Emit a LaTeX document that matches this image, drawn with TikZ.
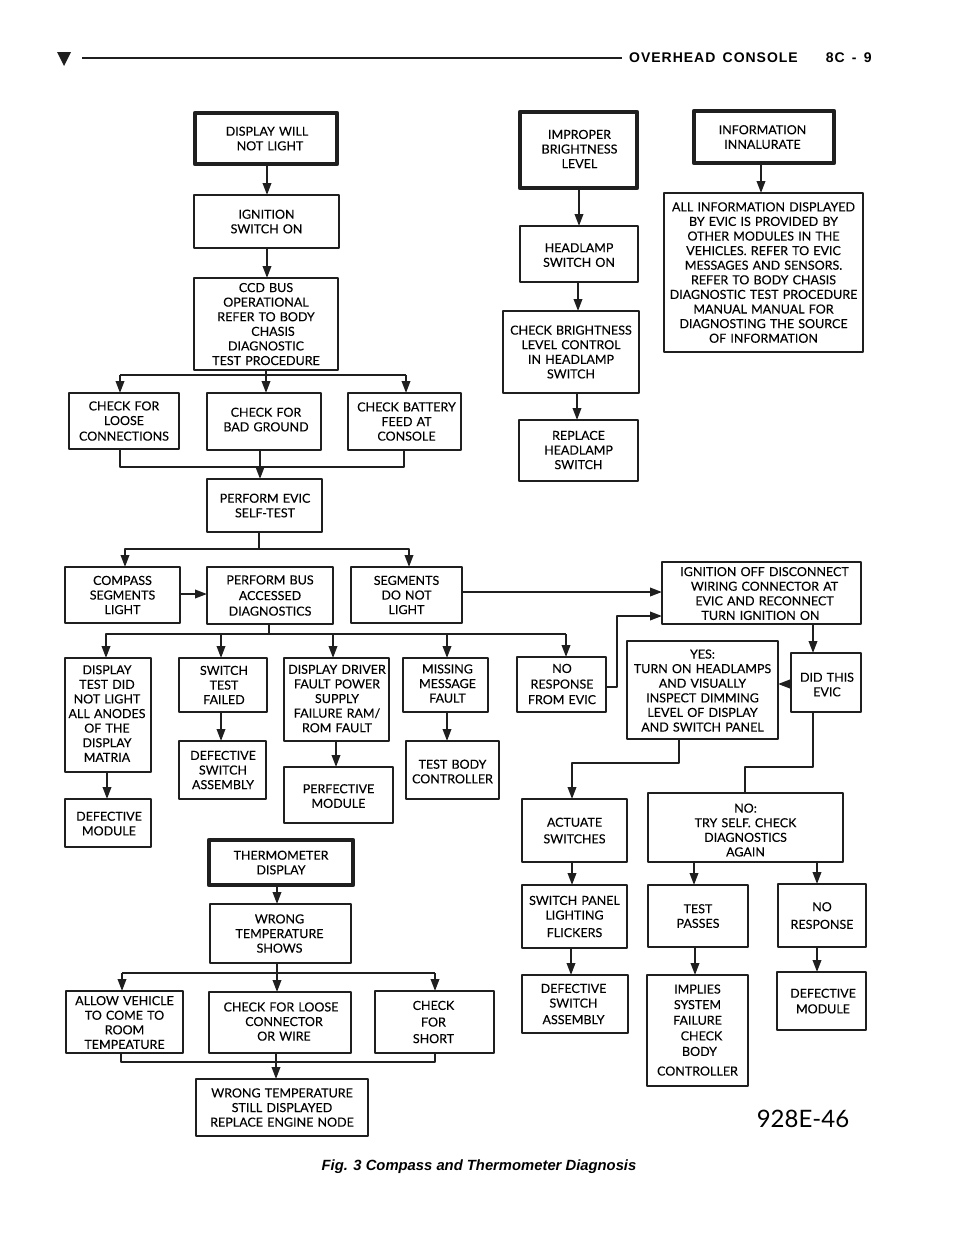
\documentclass[tikz,border=0pt]{standalone}
\usepackage{fontspec}
\usetikzlibrary{arrows.meta,calc}
\setmainfont{Lato}
\newfontfamily\headfont{Liberation Sans}[WordSpace=1.5]
\newfontfamily\capfont{Liberation Sans}
\newfontfamily\flowfam{Lato}[FakeBold=0.15,WordSpace=1.3]
\tikzset{
  box/.style={draw=black!88,line width=1.9pt,outer sep=0pt,inner sep=0pt,line join=round},
  thickbox/.style={box,line width=4.5pt},
  conn/.style={draw=black!88,line width=2pt,line join=round},
  arr/.style={conn,-{Triangle[length=12pt,width=8.5pt]}}
}
\newcommand\flowfont{\flowfam\fontsize{12.5}{14.6}\selectfont}
% \bx[opts]{name}{x1}{y1}{x2}{y2}{dx}{dy}{text}
\newcommand\bx[9][]{%
  \pgfmathsetmacro\cx{(#3+#5)/2}\pgfmathsetmacro\cy{(#4+#6)/2}%
  \pgfmathsetmacro\ww{#5-#3}\pgfmathsetmacro\hh{#6-#4}%
  \node[box,minimum width=\ww pt,minimum height=\hh pt,#1] (#2) at (\cx,\cy)
    {\makebox[0pt]{\hspace{#7pt}\hspace{#7pt}\raisebox{-4.6pt}[0pt][0pt]{\raisebox{-#8pt}[0pt][0pt]{\flowfont\setlength\tabcolsep{0pt}\begin{tabular}{c}#9\end{tabular}}}}};}
\newcommand\sh[1]{\hspace*{#1pt}}
\newcommand\dn[3]{\coordinate (jx) at (#3,0);\draw[arr] (#1.south -| jx) -- (#2.north -| jx);}
\begin{document}
\begin{tikzpicture}[x=1pt,y=-1pt]
\useasboundingbox (0,0) rectangle (960,1242);
% header
\fill[black!88] (57,52) -- (71,52) -- (64,66) -- cycle;
\coordinate (ruleL) at (82,58);
\coordinate (ruleR) at (622,58);
\draw[black!88,line width=2pt] (ruleL) -- (ruleR);
\node[anchor=west,inner sep=0pt,font=\headfont\bfseries\fontsize{14}{15}\selectfont\addfontfeature{LetterSpace=7}] (head) at (629,58) {OVERHEAD CONSOLE\hspace{28pt}8C - 9};
\node[inner sep=0pt,font=\capfont\bfseries\itshape\fontsize{14.8}{16}\selectfont] (cap) at (479,1167) {Fig. 3 Compass and Thermometer Diagnosis};
\node[inner sep=0pt,font=\fontsize{24}{26}\selectfont] (num) at (803,1119) {928E-46};
% column 1
\bx[thickbox]{a1}{195}{113}{337}{164}{1}{0}{DISPLAY WILL\\\sh{6}NOT LIGHT}
\bx{a2}{194}{195}{339}{248}{0}{0}{IGNITION\\SWITCH ON}
\bx{a3}{194}{278}{338}{370}{0}{0}{CCD BUS\\OPERATIONAL\\REFER TO BODY\\\sh{14}CHASIS\\DIAGNOSTIC\\TEST PROCEDURE}
\bx{b1}{69}{393}{179}{449}{0}{0}{CHECK FOR\\LOOSE\\[1pt]CONNECTIONS}
\bx{b2}{207}{393}{321}{450}{2}{-2}{CHECK FOR\\BAD GROUND}
\bx{b3}{348}{393}{461}{450}{2}{0}{CHECK BATTERY\\FEED AT\\CONSOLE}
\bx{c1}{207}{479}{322}{532}{0.5}{0}{PERFORM EVIC\\SELF-TEST}
\bx{d1}{65}{567}{180}{623}{0}{0}{COMPASS\\SEGMENTS\\LIGHT}
\bx{d2}{207}{567}{333}{624}{0}{0}{PERFORM BUS\\[1pt]ACCESSED\\[1pt]DIAGNOSTICS}
\bx{d3}{351}{567}{462}{623}{0}{0}{SEGMENTS\\DO NOT\\LIGHT}
\bx{e1}{65}{658}{151}{772}{-1}{-1.5}{DISPLAY\\TEST DID\\NOT LIGHT\\ALL ANODES\\OF THE\\DISPLAY\\MATRIA}
\bx{e2}{179}{658}{267}{712}{1}{0}{SWITCH\\TEST\\FAILED}
\bx{e3}{284}{658}{389}{741}{0.5}{-1}{DISPLAY DRIVER\\FAULT POWER\\SUPPLY\\FAILURE RAM/\\ROM FAULT}
\bx{e4}{403}{658}{488}{712}{2}{-1.5}{MISSING\\MESSAGE\\FAULT}
\bx{e5}{517}{657}{606}{712}{0.5}{-0.5}{NO\\[1pt]RESPONSE\\[1pt]FROM EVIC}
\bx{f1}{65}{799}{151}{847}{1}{0.5}{DEFECTIVE\\MODULE}
\bx{f2}{179}{741}{266}{799}{0.5}{0}{DEFECTIVE\\SWITCH\\ASSEMBLY}
\bx{f3}{284}{767}{393}{823}{0}{1}{PERFECTIVE\\MODULE}
\bx{f4}{406}{741}{499}{799}{0}{1.5}{TEST BODY\\CONTROLLER}
% thermometer
\bx[thickbox]{g1}{209}{840}{353}{885}{0}{0}{THERMOMETER\\DISPLAY}
\bx{g2}{210}{904}{351}{963}{-1}{0}{WRONG\\TEMPERATURE\\SHOWS}
\bx{h1}{66}{991}{183}{1053}{0}{0.5}{ALLOW VEHICLE\\TO COME TO\\ROOM\\TEMPEATURE}
\bx{h2}{209}{992}{351}{1053}{1}{-1}{CHECK FOR LOOSE\\\sh{6}CONNECTOR\\\sh{6}OR WIRE}
\bx{h3}{375}{991}{494}{1053}{-1}{0}{CHECK\\[2pt]FOR\\[2pt]SHORT}
\bx{i1}{196}{1079}{368}{1136}{0}{0}{WRONG TEMPERATURE\\STILL DISPLAYED\\REPLACE ENGINE NODE}
% column 2
\bx[thickbox]{k1}{520}{112}{637}{188}{1}{-1}{IMPROPER\\BRIGHTNESS\\LEVEL}
\bx{k2}{520}{226}{638}{282}{0}{1}{HEADLAMP\\SWITCH ON}
\bx{k3}{503}{311}{639}{393}{0}{0}{CHECK BRIGHTNESS\\LEVEL CONTROL\\IN HEADLAMP\\SWITCH}
\bx{k4}{519}{420}{638}{481}{0}{-0.5}{REPLACE\\HEADLAMP\\SWITCH}
% column 3
\bx[thickbox]{m1}{694}{111}{834}{163}{-1.5}{0}{INFORMATION\\INNALURATE}
\bx{m2}{664}{193}{863}{352}{0}{0}{ALL INFORMATION DISPLAYED\\BY EVIC IS PROVIDED BY\\OTHER MODULES IN THE\\VEHICLES. REFER TO EVIC\\MESSAGES AND SENSORS.\\REFER TO BODY CHASIS\\DIAGNOSTIC TEST PROCEDURE\\MANUAL MANUAL FOR\\DIAGNOSTING THE SOURCE\\OF INFORMATION}
\bx{n1}{662}{562}{861}{624}{3}{0.5}{IGNITION OFF DISCONNECT\\WIRING CONNECTOR AT\\EVIC AND RECONNECT\\TURN IGNITION ON\sh{8}}
\bx{n2}{627}{641}{778}{739}{0}{0.5}{YES:\\TURN ON HEADLAMPS\\AND VISUALLY\\INSPECT DIMMING\\LEVEL OF DISPLAY\\AND SWITCH PANEL}
\bx{n3}{791}{653}{861}{712}{1}{2}{DID THIS\\EVIC}
\bx{p1}{522}{799}{627}{862}{0}{0}{ACTUATE\\[2pt]SWITCHES}
\bx{p2}{648}{793}{843}{862}{0}{2.5}{NO:\\TRY SELF. CHECK\\DIAGNOSTICS\\AGAIN}
\bx{q1}{522}{885}{627}{948}{0}{0}{SWITCH PANEL\\LIGHTING\\[3pt]FLICKERS}
\bx{q2}{648}{885}{748}{947}{0}{0}{TEST\\PASSES}
\bx{q3}{778}{884}{866}{947}{0}{0}{NO\\[3pt]RESPONSE}
\bx{r1}{522}{975}{628}{1033}{-1.5}{0}{DEFECTIVE\\SWITCH\\[2pt]ASSEMBLY}
\bx{r2}{647}{975}{748}{1086}{0}{-0.5}{IMPLIES\\[1pt]SYSTEM\\[1pt]FAILURE\\[1pt]\sh{8}CHECK\\[1pt]\sh{4}BODY\\[5pt]CONTROLLER}
\bx{r3}{777}{972}{866}{1030}{1.5}{0}{DEFECTIVE\\[1pt]MODULE}
% straight arrows
\dn{a1}{a2}{267}\dn{a2}{a3}{267}
\dn{e1}{f1}{107}\dn{e2}{f2}{221}\dn{e3}{f3}{336}\dn{e4}{f4}{447}
\dn{g1}{g2}{277}
\dn{k1}{k2}{579}\dn{k2}{k3}{578}\dn{k3}{k4}{577}
\dn{m1}{m2}{761}\dn{n1}{n3}{813}
\dn{p1}{q1}{572}\dn{q1}{r1}{571}\dn{p2}{q2}{694}\dn{q2}{r2}{695}\dn{p2}{q3}{817}\dn{q3}{r3}{817}
% split a3 -> b*
\coordinate (s1) at (120,375);\coordinate (s1r) at (406,375);\coordinate (s1m) at (266,375);
\draw[conn] (s1) -- (s1r);
\draw[conn] (a3.south -| s1m) -- (s1m);
\draw[arr] (s1) -- (s1 |- b1.north);
\draw[arr] (s1m) -- (s1m |- b2.north);
\draw[arr] (s1r) -- (s1r |- b3.north);
% merge b* -> c1
\coordinate (s2) at (120,467);\coordinate (s2r) at (404,467);\coordinate (s2m) at (260,467);
\draw[conn] (s2 |- b1.south) -- (s2) -- (s2r) -- (s2r |- b3.south);
\draw[arr] (s2m |- b2.south) -- (s2m |- c1.north);
% split c1 -> d*
\coordinate (s3) at (125,549);\coordinate (s3r) at (409,549);\coordinate (s3m) at (259,549);
\draw[conn] (c1.south -| s3m) -- (s3m);
\draw[arr] (s3m) -- (s3) -- (s3 |- d1.north);
\draw[arr] (s3m) -- (s3r) -- (s3r |- d3.north);
\coordinate (s4) at (0,594);
\draw[arr] (d1.east |- s4) -- (d2.west |- s4);
% split d2 -> e*
\coordinate (s5) at (106,634);\coordinate (s5r) at (566,634);\coordinate (s5m) at (269,634);
\coordinate (s5b) at (221,634);\coordinate (s5c) at (333,634);\coordinate (s5d) at (447,634);
\draw[conn] (d2.south -| s5m) -- (s5m);
\draw[arr] (s5r) -- (s5) -- (s5 |- e1.north);
\draw[arr] (s5r) -- (s5r |- e5.north);
\draw[arr] (s5b) -- (s5b |- e2.north);
\draw[arr] (s5c) -- (s5c |- e3.north);
\draw[arr] (s5d) -- (s5d |- e4.north);
% to ignition box
\coordinate (t1) at (0,592);\coordinate (t2) at (617,687);\coordinate (t3) at (617,616);
\draw[arr] (d3.east |- t1) -- (n1.west |- t1);
\draw[arr] (e5.east |- t2) -- (t2) -- (t3) -- (n1.west |- t3);
% did -> yes
\coordinate (t4) at (0,684);
\draw[arr] (n3.west |- t4) -- (n2.east |- t4);
% yes -> actuate
\coordinate (u1) at (679,763);\coordinate (u2) at (572,763);
\draw[arr] (n2.south -| u1) -- (u1) -- (u2) -- (u2 |- p1.north);
% did -> no
\coordinate (v1) at (813,767);\coordinate (v2) at (745,767);
\draw[conn,line width=2.6pt] (n3.south -| v1) -- (v1) -- (v2) -- (v2 |- p2.north);
% thermometer split
\coordinate (w1) at (122,973);\coordinate (w1r) at (435,973);\coordinate (w1m) at (277,973);
\draw[conn] (g2.south -| w1m) -- (w1m);
\draw[conn] (w1) -- (w1r);
\draw[arr] (w1) -- (w1 |- h1.north);
\draw[arr] (w1m) -- (w1m |- h2.north);
\draw[arr] (w1r) -- (w1r |- h3.north);
% thermometer merge
\coordinate (x1) at (121,1062);\coordinate (x1r) at (435,1062);\coordinate (x1m) at (276,1062);
\draw[conn] (x1 |- h1.south) -- (x1) -- (x1r) -- (x1r |- h3.south);
\draw[arr] (x1m |- h2.south) -- (x1m |- i1.north);
\end{tikzpicture}
\end{document}
